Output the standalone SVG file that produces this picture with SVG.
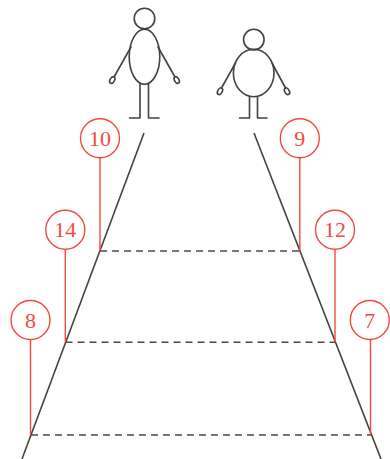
<svg xmlns="http://www.w3.org/2000/svg" width="390" height="459" viewBox="0 0 390 459">
  <style>
    .ink { fill: none; stroke: #46413b; stroke-width: 1.6; stroke-linecap: round; stroke-linejoin: round; }
    .edge { fill: none; stroke: #46413b; stroke-width: 1.6; }
    .level { fill: none; stroke: #4f4b44; stroke-width: 1.6; stroke-dasharray: 7 5; }
    .tag circle { fill: #ffffff; stroke: #f24a3e; stroke-width: 1.4; }
    .lead { stroke: #f24a3e; stroke-width: 1.4; }
    .tag text { font-family: "Liberation Serif", "DejaVu Serif", serif; font-size: 22px; fill: #f24a3e; text-anchor: middle; }
  </style>
  <rect width="390" height="459" fill="#ffffff"/>

  <!-- tall thin figure -->
  <g id="tall-figure" class="ink">
    <circle cx="144.5" cy="18.5" r="10.3"/>
    <ellipse cx="144.5" cy="56.8" rx="15.3" ry="27.5"/>
    <line x1="131" y1="47" x2="114" y2="77"/>
    <ellipse cx="112.3" cy="80" rx="2.2" ry="3.6" transform="rotate(30 112.3 80)"/>
    <line x1="158" y1="47" x2="175" y2="77"/>
    <ellipse cx="176.7" cy="80" rx="2.2" ry="3.6" transform="rotate(-30 176.7 80)"/>
    <polyline points="140,84 140,118 129.5,118"/>
    <polyline points="148.5,84 148.5,118 159,118"/>
  </g>

  <!-- short round figure -->
  <g id="round-figure" class="ink">
    <circle cx="253.8" cy="39.6" r="10.3"/>
    <ellipse cx="253.7" cy="73" rx="20.3" ry="23.7"/>
    <line x1="235.5" y1="63" x2="221.5" y2="88"/>
    <ellipse cx="220" cy="91.2" rx="2.2" ry="3.6" transform="rotate(30 220 91.2)"/>
    <line x1="272" y1="63" x2="285.5" y2="88"/>
    <ellipse cx="287" cy="91.2" rx="2.2" ry="3.6" transform="rotate(-30 287 91.2)"/>
    <polyline points="249.5,96.5 249.5,118 239.5,118"/>
    <polyline points="257.5,96.5 257.5,118 267,118"/>
  </g>

  <!-- path edges and dashed level lines -->
  <g id="connectors">
    <line class="edge" x1="144" y1="133" x2="22" y2="459"/>
    <line class="edge" x1="254" y1="133" x2="381" y2="459"/>
    <line class="level" x1="100" y1="251" x2="300" y2="251"/>
    <line class="level" x1="65.5" y1="342.3" x2="335" y2="342.3"/>
    <line class="level" x1="31" y1="435" x2="371" y2="435"/>
    <line class="lead" x1="100" y1="157.8" x2="100" y2="251"/>
    <line class="lead" x1="65.3" y1="249.2" x2="65.3" y2="342.3"/>
    <line class="lead" x1="30.5" y1="339.5" x2="30.5" y2="435"/>
    <line class="lead" x1="299.8" y1="157.8" x2="299.8" y2="251"/>
    <line class="lead" x1="335" y1="249.2" x2="335" y2="342.3"/>
    <line class="lead" x1="370.5" y1="339.5" x2="370.5" y2="435"/>
  </g>

  <!-- numbered markers -->
  <g id="tag-10" class="tag"><circle cx="100" cy="138.3" r="19.5"/><text x="100" y="146">10</text></g>
  <g id="tag-14" class="tag"><circle cx="65.3" cy="229.7" r="19.5"/><text x="65.3" y="237.4">14</text></g>
  <g id="tag-8" class="tag"><circle cx="30.5" cy="320" r="19.5"/><text x="30.5" y="327.7">8</text></g>
  <g id="tag-9" class="tag"><circle cx="299.8" cy="138.3" r="19.5"/><text x="299.8" y="146">9</text></g>
  <g id="tag-12" class="tag"><circle cx="335" cy="229.7" r="19.5"/><text x="335" y="237.4">12</text></g>
  <g id="tag-7" class="tag"><circle cx="369.8" cy="320" r="19.5"/><text x="369.8" y="327.7">7</text></g>
</svg>
